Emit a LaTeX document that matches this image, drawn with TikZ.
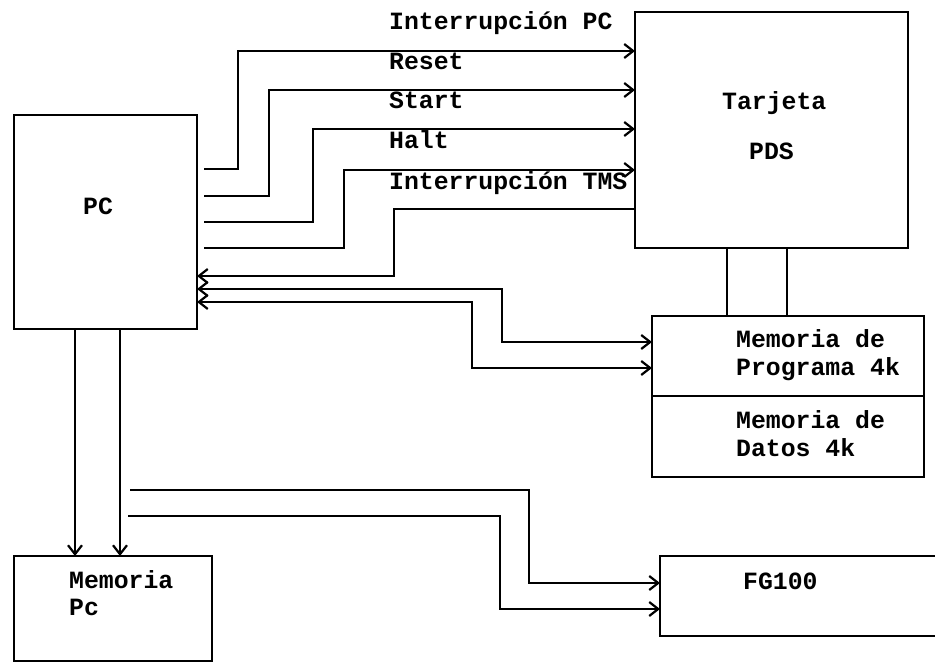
\documentclass[tikz,border=0pt]{standalone}
\usepackage{fontspec}
\usepackage{tikz}
\usetikzlibrary{arrows.meta,calc}
\newfontfamily\dotfont{Liberation Mono}

\tikzset{
  >={Straight Barb[length=9pt,width=14pt]},
  box/.style={draw, line width=2.2pt, inner sep=0pt, outer sep=0pt},
  sig/.style={line width=2.2pt},
  lbl/.style={font=\dotfont\bfseries\fontsize{24.8}{28}\selectfont, inner sep=0pt, anchor=base west}
}

\begin{document}
\begin{tikzpicture}[x=1pt,y=-1pt]
    \useasboundingbox (0,0) rectangle (935,663);

    % Blocks
    \node[box, minimum width=183pt, minimum height=214pt] (pc) at (105.5,222) {};
    \node[box, minimum width=273pt, minimum height=236pt] (tarj) at (771.5,130) {};
    \node[box, minimum width=272pt, minimum height=161pt] (mem) at (788,396.5) {};
    \node[box, minimum width=198pt, minimum height=105pt] (mempc) at (113,608.5) {};
    \node[box, minimum width=300pt, minimum height=80pt] (fg) at (810,596) {};
    \draw[sig] (mem.west |- 0,396) -- (mem.east |- 0,396);

    % Block texts
    \node[lbl] (pctxt) at (83,215) {PC};
    \node[lbl] (tarjtxt) at (722,110) {Tarjeta};
    \node[lbl] (pdstxt) at (749,160) {PDS};
    \node[lbl] (progA) at (736,348) {Memoria de};
    \node[lbl] (progB) at (736,375) {Programa 4k};
    \node[lbl] (datA) at (736,428) {Memoria de};
    \node[lbl] (datB) at (736,456) {Datos 4k};
    \node[lbl] (mpcA) at (69,588) {Memoria};
    \node[lbl] (mpcB) at (69,615) {Pc};
    \node[lbl] (fgtxt) at (743,589) {FG100};

    % Control lines PC -> Tarjeta
    \foreach \lo/\vx/\hi in {169/238/51, 196/269/90, 222/313/129, 248/344/170} {
        \draw[sig,->] ($(pc.east |- 0,\lo)+(7,0)$) -| (\vx,\hi) -- (tarj.west |- 0,\hi);
    }
    \draw[sig,->] (tarj.west |- 0,209) -| (394,276) -- (pc.east |- 0,276);

    % Signal names
    \node[lbl] (lintpc) at (389,30) {Interrupción PC};
    \node[lbl] (lreset) at (389,70) {Reset};
    \node[lbl] (lstart) at (389,109) {Start};
    \node[lbl] (lhalt) at (389,149) {Halt};
    \node[lbl] (linttms) at (389,190) {Interrupción TMS};

    % Buses
    \draw[sig,<->] (pc.east |- 0,289) -| (502,342) -- (mem.west |- 0,342);
    \draw[sig,<->] (pc.east |- 0,302) -| (472,368) -- (mem.west |- 0,368);
    \foreach \bx in {75,120} {
        \draw[sig,->] (pc.south -| \bx,0) -- (mempc.north -| \bx,0);
    }
    \foreach \bx in {727,787} {
        \draw[sig] (tarj.south -| \bx,0) -- (mem.north -| \bx,0);
    }

    % Lines to FG100
    \coordinate (fga) at (130,490);
    \coordinate (fgb) at (128,516);
    \draw[sig,->] (fga) -| (529,583) -- (fg.west |- 0,583);
    \draw[sig,->] (fgb) -| (500,609) -- (fg.west |- 0,609);
\end{tikzpicture}
\end{document}
